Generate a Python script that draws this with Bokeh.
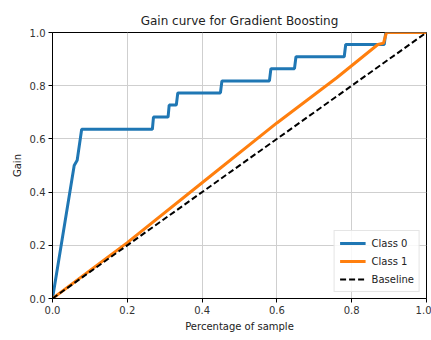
from bokeh.plotting import figure
from bokeh.models import FixedTicker, PrintfTickFormatter, Legend, LegendItem, Range1d
from bokeh.embed import file_html
from bokeh.resources import INLINE

# Data
class0_pct = [0.0, 0.058, 0.066, 0.078, 0.267, 0.270, 0.309, 0.312, 0.331, 0.335,
              0.449, 0.453, 0.580, 0.584, 0.647, 0.651, 0.780, 0.784, 0.887, 0.891, 1.0]
class0_gain = [0.0, 0.50, 0.52, 0.636, 0.636, 0.682, 0.682, 0.727, 0.727, 0.773,
               0.773, 0.818, 0.818, 0.864, 0.864, 0.909, 0.909, 0.955, 0.955, 1.0, 1.0]

class1_pct = [0.0, 0.2, 0.4, 0.6, 0.76, 0.87, 0.885, 0.893, 1.0]
class1_gain = [0.0, 0.21, 0.435, 0.66, 0.83, 0.955, 0.96, 1.0, 1.0]

baseline_pct = [0.0, 1.0]
baseline_gain = [0.0, 1.0]

ticks = [0.0, 0.2, 0.4, 0.6, 0.8, 1.0]

FONT = "DejaVu Sans"

p = figure(width=431, height=340, output_backend="svg", toolbar_location=None,
           x_range=Range1d(0, 1), y_range=Range1d(0, 1),
           title="Gain curve for Gradient Boosting",
           min_border_left=52, min_border_right=5, min_border_top=32, min_border_bottom=42)

p.title.align = "center"
p.title.text_font = FONT
p.title.text_font_size = "12px"
p.title.text_font_style = "normal"
p.title.text_color = "#222222"

for ax in (p.xaxis[0], p.yaxis[0]):
    ax.ticker = FixedTicker(ticks=ticks)
    ax.formatter = PrintfTickFormatter(format="%.1f")
    ax.major_label_text_font = FONT
    ax.major_label_text_font_size = "10px"
    ax.major_label_text_color = "#333333"
    ax.axis_label_text_font = FONT
    ax.axis_label_text_font_size = "10px"
    ax.axis_label_text_font_style = "normal"
    ax.axis_label_text_color = "#222222"
    ax.axis_line_color = "black"
    ax.major_tick_line_color = "black"
    ax.major_tick_out = 4
    ax.major_tick_in = 0
    ax.minor_tick_line_color = None
    ax.axis_label_standoff = 4
    ax.major_label_standoff = 3

p.xaxis.axis_label = "Percentage of sample"
p.yaxis.axis_label = "Gain"

p.outline_line_color = "black"
p.outline_line_width = 1
p.xgrid.grid_line_color = "#cfcfcf"
p.ygrid.grid_line_color = "#cfcfcf"
p.xgrid.ticker = FixedTicker(ticks=ticks)
p.ygrid.ticker = FixedTicker(ticks=ticks)

r0 = p.line(class0_pct, class0_gain, line_color="#1f77b4", line_width=3)
r1 = p.line(class1_pct, class1_gain, line_color="#ff7f0e", line_width=3)
r2 = p.line(baseline_pct, baseline_gain, line_color="black", line_width=2, line_dash="6 3")

legend = Legend(items=[LegendItem(label="Class 0", renderers=[r0]),
                       LegendItem(label="Class 1", renderers=[r1]),
                       LegendItem(label="Baseline", renderers=[r2])],
                location="bottom_right")
legend.label_text_font = FONT
legend.label_text_font_size = "10px"
legend.label_text_color = "#222222"
legend.border_line_color = "#cccccc"
legend.background_fill_alpha = 0.85
legend.glyph_width = 26
legend.glyph_height = 14
legend.spacing = 4
legend.padding = 5
legend.margin = 6
legend.label_standoff = 6
legend.label_height = 14
p.add_layout(legend)

open("out.html", "w").write(file_html(p, INLINE))
